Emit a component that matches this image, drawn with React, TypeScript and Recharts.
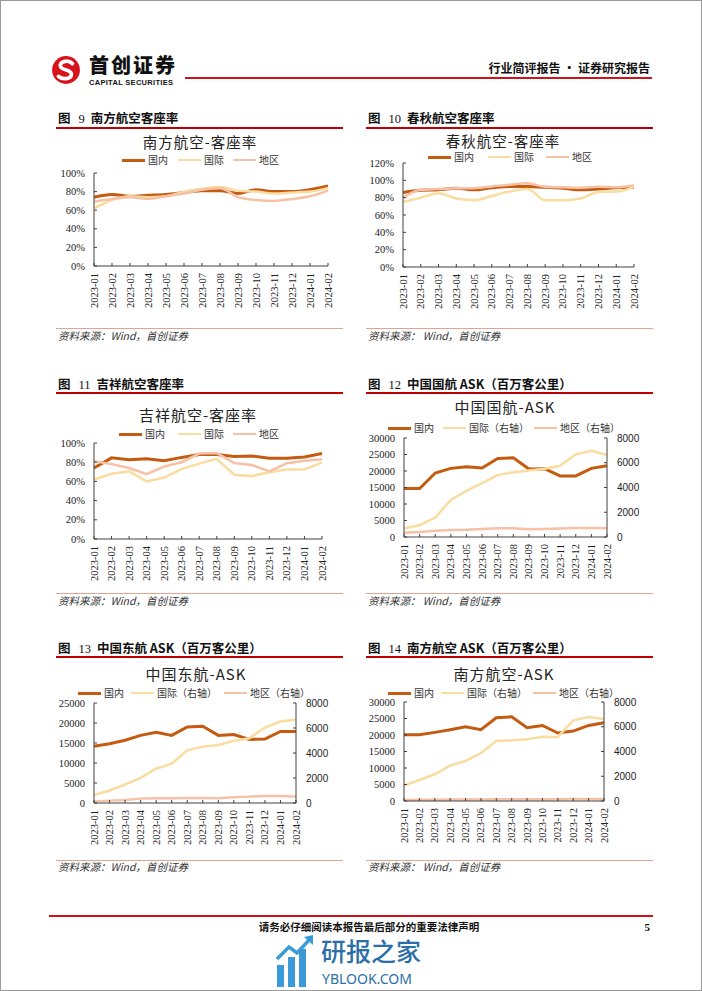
import React from 'react';
import { LineChart, Line, XAxis, YAxis } from 'recharts';

// ---------- data ----------
const months = ['2023-01', '2023-02', '2023-03', '2023-04', '2023-05', '2023-06', '2023-07', '2023-08', '2023-09', '2023-10', '2023-11', '2023-12', '2024-01', '2024-02'];

// 南方航空客座率 (%)
const nhDom = [74, 77, 75, 76, 77, 79, 81, 81, 78, 82, 80, 80, 82, 86];
const nhIntl = [62, 71, 75, 74, 75, 80, 83, 85, 81, 80, 78, 79, 80, 84];
const nhReg = [69, 72, 74, 72, 75, 78, 82, 84, 74, 71, 70, 72, 75, 81];

// 春秋航空客座率 (%)
const cqDom = [86, 88.5, 89, 91, 89, 91.5, 93, 93, 92, 91, 89, 90, 91.5, 92];
const cqIntl = [75, 80, 85, 79, 77, 82, 87, 90, 77, 77, 79, 86.5, 87, 92.5];
const cqReg = [80, 89, 90, 91, 91, 93, 95, 96.5, 92.5, 92, 91.5, 92.5, 92, 94];

// 吉祥航空客座率 (%)
const jxDom = [74, 84.5, 82.5, 83.5, 81.5, 85, 88, 88, 86, 86.5, 84, 84, 85.5, 89];
const jxIntl = [62, 68, 70.5, 60, 64, 73, 78.5, 83.5, 67, 65.5, 69.5, 72.5, 72.5, 79.5];
const jxReg = [81, 78, 74, 67.5, 75.5, 80, 89, 89.5, 79, 77, 70.5, 79, 81.5, 83];

// 中国国航 ASK (百万客公里)
const caDom = [14700, 14700, 19400, 20800, 21300, 20900, 23800, 24000, 20600, 20700, 18500, 18500, 20800, 21600];
const caIntl = [700, 950, 1570, 3000, 3730, 4350, 5000, 5240, 5380, 5510, 5760, 6680, 6970, 6620];
const caReg = [350, 400, 510, 570, 590, 650, 700, 700, 620, 650, 680, 730, 730, 700];

// 中国东航 ASK
const ceDom = [14200, 14800, 15700, 16900, 17700, 16900, 19000, 19200, 16900, 17100, 15900, 16000, 17900, 17900];
const ceIntl = [640, 1000, 1480, 2010, 2740, 3140, 4210, 4510, 4640, 4970, 5180, 6040, 6520, 6680];
const ceReg = [130, 190, 240, 350, 380, 380, 400, 400, 380, 460, 510, 560, 560, 510];

// 南方航空 ASK
const czDom = [20100, 20100, 20800, 21600, 22500, 21600, 25200, 25500, 22200, 22900, 20600, 21200, 22900, 23700];
const czIntl = [1240, 1700, 2160, 2860, 3230, 3880, 4850, 4900, 4990, 5200, 5180, 6520, 6790, 6630];
const czReg = [80, 100, 110, 120, 130, 130, 140, 140, 140, 150, 150, 160, 160, 160];

const pctTicks100 = [0, 20, 40, 60, 80, 100];
const pctTicks120 = [0, 20, 40, 60, 80, 100, 120];
const askTicks30 = [0, 5000, 10000, 15000, 20000, 25000, 30000];
const askTicks25 = [0, 5000, 10000, 15000, 20000, 25000];
const rightTicks8 = [0, 2000, 4000, 6000, 8000];

// ---------- styles ----------
const C_DOM = '#C55A11';
const C_INTL = '#F9DC9F';
const C_REG = '#F6C1A5';
const AX = '#404040';
const SERIF = '"Liberation Serif","Times New Roman",serif';
const SANS = '"Liberation Sans",Arial,sans-serif';
const CJK = '"Noto Sans CJK SC","Noto Sans",sans-serif';

const build = (a: number[], b: number[], c: number[]) =>
  months.map((m, i) => ({ m, dom: a[i], intl: b[i], reg: c[i] }));

function XTick(props: any) {
  const { x, y, payload } = props;
  const ay = y - 7;
  return (
    <g>
      <line x1={x} x2={x} y1={ay} y2={ay - 3} stroke={AX} />
      <text
        x={x}
        y={y}
        transform={`rotate(-90 ${x} ${y})`}
        textAnchor="end"
        dominantBaseline="central"
        fontFamily={SERIF}
        fontSize={10.5}
        fill="#222"
      >
        {payload.value}
      </text>
    </g>
  );
}

const makeYTick = (fmt: (v: number) => string, side: 'left' | 'right', font: string, size: number, margin: number) =>
  (props: any) => {
    const { x, y, payload } = props;
    const ax = side === 'left' ? x + margin : x - margin;
    const dir = side === 'left' ? 1 : -1;
    return (
      <g>
        <line x1={ax} x2={ax + dir * 3} y1={y} y2={y} stroke={AX} />
        <text
          x={x}
          y={y}
          dy="0.35em"
          textAnchor={side === 'left' ? 'end' : 'start'}
          fontFamily={font}
          fontSize={size}
          fill="#222"
        >
          {fmt(payload.value)}
        </text>
      </g>
    );
  };

const pctFmt = (v: number) => `${v}%`;
const numFmt = (v: number) => `${v}`;

type AxisCfg = { domain: [number, number]; ticks: number[]; fmt: (v: number) => string };

function Chart(p: {
  x0: number; x1: number; y0: number; y1: number;
  data: any[]; left: AxisCfg; right?: AxisCfg; curve: 'monotone' | 'linear';
}) {
  const LW = 60;
  const RW = p.right ? 50 : 10;
  const width = p.x1 - p.x0 + LW + RW;
  const height = p.y1 - p.y0 + 10 + 50;
  const LTick = makeYTick(p.left.fmt, 'left', SERIF, 10.5, 9);
  const RTick = p.right ? makeYTick(p.right.fmt, 'right', SANS, 10, 10) : null;
  return (
    <div style={{ position: 'absolute', left: p.x0 - LW, top: p.y0 - 10, width, height }}>
      <LineChart width={width} height={height} data={p.data} margin={{ top: 10, right: p.right ? 0 : 10, left: 0, bottom: 0 }}>
        <XAxis
          dataKey="m"
          interval={0}
          height={50}
          tickSize={0}
          tickMargin={7}
          tickLine={false}
          axisLine={{ stroke: AX }}
          tick={<XTick />}
        />
        <YAxis
          yAxisId="L"
          orientation="left"
          width={LW}
          domain={p.left.domain}
          ticks={p.left.ticks}
          interval={0}
          tickSize={0}
          tickMargin={9}
          tickLine={false}
          axisLine={{ stroke: AX }}
          tick={<LTick />}
        />
        {p.right && RTick && (
          <YAxis
            yAxisId="R"
            orientation="right"
            width={50}
            domain={p.right.domain}
            ticks={p.right.ticks}
            interval={0}
            tickSize={0}
            tickMargin={10}
            tickLine={false}
            axisLine={{ stroke: AX }}
            tick={<RTick />}
          />
        )}
        <Line yAxisId="L" dataKey="dom" type={p.curve} stroke={C_DOM} strokeWidth={3} dot={false} activeDot={false} isAnimationActive={false} />
        <Line yAxisId={p.right ? 'R' : 'L'} dataKey="intl" type={p.curve} stroke={C_INTL} strokeWidth={2.5} dot={false} activeDot={false} isAnimationActive={false} />
        <Line yAxisId={p.right ? 'R' : 'L'} dataKey="reg" type={p.curve} stroke={C_REG} strokeWidth={2.5} dot={false} activeDot={false} isAnimationActive={false} />
      </LineChart>
    </div>
  );
}

function T(p: { x: number; y: number; size: number; text: string; anchor?: 'start' | 'middle' | 'end'; font?: string; weight?: number | string; color?: string; italic?: boolean; spacing?: number }) {
  const style: React.CSSProperties = {
    position: 'absolute',
    top: p.y - p.size / 2,
    lineHeight: `${p.size}px`,
    fontSize: p.size,
    fontFamily: p.font || CJK,
    fontWeight: p.weight as any,
    color: p.color || '#222',
    whiteSpace: 'nowrap',
    fontStyle: p.italic ? 'italic' : 'normal',
    letterSpacing: p.spacing ? p.spacing : undefined,
  };
  if (p.anchor === 'middle') {
    style.left = p.x;
    style.transform = 'translateX(-50%)';
  } else if (p.anchor === 'end') {
    style.right = 702 - p.x;
  } else {
    style.left = p.x;
  }
  return <div style={style}>{p.text}</div>;
}

function HLine(p: { x0: number; x1: number; y: number; h: number; color: string }) {
  return <div style={{ position: 'absolute', left: p.x0, top: p.y - p.h / 2, width: p.x1 - p.x0, height: p.h, background: p.color }} />;
}

function Legend(p: { y: number; items: { x: number; label: string; color: string; thick: number }[] }) {
  return (
    <>
      {p.items.map((it) => (
        <React.Fragment key={it.label}>
          <div style={{ position: 'absolute', left: it.x, top: p.y - it.thick / 2, width: 23, height: it.thick, background: it.color }} />
          <T x={it.x + 26} y={p.y} size={10} text={it.label} color="#333" />
        </React.Fragment>
      ))}
    </>
  );
}

function Panel(p: { x: number; num: string; title: string; y: number; line: number; srcLine: number; src: number; srcText: string }) {
  const x0 = p.x < 300 ? 55 : 365;
  const x1 = p.x < 300 ? 342 : 652;
  return (
    <>
      <div style={{ position: 'absolute', left: p.x, top: p.y - 8, lineHeight: '16px', fontSize: 12.5, fontFamily: CJK, fontWeight: 700, color: '#111', whiteSpace: 'nowrap' }}>
        图<span style={{ fontFamily: SERIF, fontWeight: 400, margin: '0 6px 0 8px' }}>{p.num}</span>{p.title}
      </div>
      <HLine x0={x0} x1={x1} y={p.line} h={1.5} color="#C00000" />
      <HLine x0={x0} x1={x1} y={p.srcLine} h={1} color="#E2A58F" />
      <T x={p.x} y={p.src} size={10.5} text={p.srcText} italic color="#333" />
    </>
  );
}

const legendRate = (y: number, xs: number[]) => (
  <Legend
    y={y}
    items={[
      { x: xs[0], label: '国内', color: C_DOM, thick: 3 },
      { x: xs[1], label: '国际', color: C_INTL, thick: 2.5 },
      { x: xs[2], label: '地区', color: C_REG, thick: 2.5 },
    ]}
  />
);
const legendAsk = (y: number, xs: number[]) => (
  <Legend
    y={y}
    items={[
      { x: xs[0], label: '国内', color: C_DOM, thick: 3 },
      { x: xs[1], label: '国际（右轴）', color: C_INTL, thick: 2.5 },
      { x: xs[2], label: '地区（右轴）', color: C_REG, thick: 2.5 },
    ]}
  />
);

export default function App() {
  const pct100: AxisCfg = { domain: [0, 100], ticks: pctTicks100, fmt: pctFmt };
  const pct120: AxisCfg = { domain: [0, 120], ticks: pctTicks120, fmt: pctFmt };
  const ask30: AxisCfg = { domain: [0, 30000], ticks: askTicks30, fmt: numFmt };
  const ask25: AxisCfg = { domain: [0, 25000], ticks: askTicks25, fmt: numFmt };
  const r8: AxisCfg = { domain: [0, 8000], ticks: rightTicks8, fmt: numFmt };
  const src1 = '资料来源：Wind，首创证券';
  const src2 = '资料来源：  Wind，首创证券';
  const titleStyle = { size: 15, anchor: 'middle' as const, spacing: 1, color: '#222' };

  return (
    <div style={{ position: 'absolute', left: 0, top: 0, width: 702, height: 991, background: '#fff', border: '1px solid #9a9a9a', boxSizing: 'border-box', overflow: 'hidden' }}>
      {/* header */}
      <svg style={{ position: 'absolute', left: 50, top: 54 }} width={30} height={30} viewBox="0 0 28 28">
        <circle cx={14} cy={14} r={13} fill="#D7141C" />
        <path d="M20 8 C16 4, 7 6, 9 11 C11 15, 19 13, 19 18 C19 23, 10 23, 7 20" stroke="#fff" strokeWidth={3.5} fill="none" strokeLinecap="round" />
      </svg>
      <T x={88} y={64} size={20} text="首创证券" weight={900} color="#111" spacing={2} />
      <T x={88} y={82} size={7.5} text="CAPITAL SECURITIES" weight={700} font={SANS} color="#111" spacing={0.3} />
      <HLine x0={184} x1={651} y={77} h={2} color="#D0121B" />
      <T x={651} y={67} size={12} text="行业简评报告 · 证券研究报告" anchor="end" weight={700} color="#111" />

      {/* panels */}
      <Panel x={57} num="9" title="南方航空客座率" y={117} line={127} srcLine={327} src={335} srcText={src1} />
      <Panel x={367} num="10" title="春秋航空客座率" y={117} line={127} srcLine={327} src={335} srcText={src2} />
      <Panel x={57} num="11" title="吉祥航空客座率" y={383} line={392} srcLine={592} src={600} srcText={src1} />
      <Panel x={367} num="12" title="中国国航 ASK（百万客公里）" y={383} line={392} srcLine={592} src={600} srcText={src2} />
      <Panel x={57} num="13" title="中国东航 ASK（百万客公里）" y={647} line={656} srcLine={859} src={866} srcText={src1} />
      <Panel x={367} num="14" title="南方航空 ASK（百万客公里）" y={647} line={656} srcLine={859} src={866} srcText={src2} />

      {/* chart 9 */}
      <T x={199} y={141} text="南方航空-客座率" {...titleStyle} size={14.5} />
      {legendRate(159, [121, 177, 232])}
      <Chart x0={93} x1={327} y0={172} y1={265} data={build(nhDom, nhIntl, nhReg)} left={pct100} curve="monotone" />

      {/* chart 10 */}
      <T x={502} y={140} text="春秋航空-客座率" {...titleStyle} size={14.5} />
      {legendRate(156, [427, 487, 545])}
      <Chart x0={402} x1={633} y0={162} y1={266} data={build(cqDom, cqIntl, cqReg)} left={pct120} curve="monotone" />

      {/* chart 11 */}
      <T x={197} y={413} text="吉祥航空-客座率" {...titleStyle} />
      {legendRate(433, [118, 177, 232])}
      <Chart x0={93} x1={321} y0={442} y1={538} data={build(jxDom, jxIntl, jxReg)} left={pct100} curve="linear" />

      {/* chart 12 */}
      <T x={504} y={405} text="中国国航-ASK" {...titleStyle} />
      {legendAsk(427, [387, 442, 533])}
      <Chart x0={403} x1={606} y0={437} y1={536} data={build(caDom, caIntl, caReg)} left={ask30} right={r8} curve="linear" />

      {/* chart 13 */}
      <T x={195} y={672} text="中国东航-ASK" {...titleStyle} />
      {legendAsk(692, [77, 130, 223])}
      <Chart x0={93} x1={295} y0={702} y1={802} data={build(ceDom, ceIntl, ceReg)} left={ask25} right={r8} curve="linear" />

      {/* chart 14 */}
      <T x={503} y={672} text="南方航空-ASK" {...titleStyle} />
      {legendAsk(692, [387, 440, 532])}
      <Chart x0={403} x1={603} y0={701} y1={800} data={build(czDom, czIntl, czReg)} left={ask30} right={r8} curve="linear" />

      {/* footer */}
      <HLine x0={48} x1={652} y={915} h={2} color="#D0121B" />
      <T x={368} y={926} size={10.5} text="请务必仔细阅读本报告最后部分的重要法律声明" anchor="middle" weight={700} color="#111" />
      <T x={651} y={926} size={11} text="5" anchor="end" weight={700} font={SERIF} color="#111" />

      {/* watermark */}
      <svg style={{ position: 'absolute', left: 274, top: 934 }} width={40} height={52} viewBox="0 0 40 52">
        <rect x={2} y={30} width={7} height={22} fill="#3A9BD8" />
        <rect x={13} y={22} width={7} height={30} fill="#3A9BD8" />
        <rect x={24} y={14} width={7} height={38} fill="#3A9BD8" />
        <polyline points="2,24 14,12 22,18 36,3" stroke="#3A9BD8" strokeWidth={3.5} fill="none" />
        <polygon points="38,0 38,10 29,2" fill="#3A9BD8" />
      </svg>
      <T x={320} y={949} size={25} text="研报之家" color="#2C6FA8" weight={500} />
      <T x={321} y={978} size={14} text="YBLOOK.COM" color="#2C6FA8" font={'"Noto Sans",sans-serif'} />
    </div>
  );
}
